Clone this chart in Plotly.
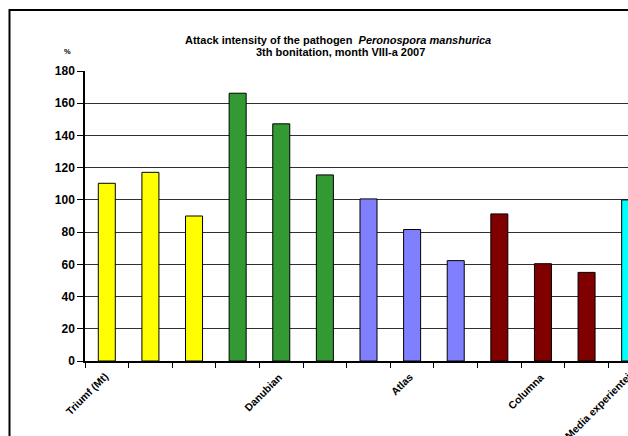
import plotly.graph_objects as go

# Attack intensity (%) per variant, third bonitation, August 2007
values = [110.3, 117.1, 90.0,
          166.2, 147.2, 115.5,
          100.6, 81.6, 62.3,
          91.3, 60.4, 55.0,
          100.0]
bar_colors = ["#FFFF00", "#FFFF00", "#FFFF00",
              "#339933", "#339933", "#339933",
              "#8080FF", "#8080FF", "#8080FF",
              "#800000", "#800000", "#800000",
              "#00FFFF"]
category_labels = ["Triumf (Mt)", "", "", "", "Danubian", "", "", "Atlas", "", "",
                   "Columna", "", "Media experientei"]
y_ticks = [0, 20, 40, 60, 80, 100, 120, 140, 160, 180]

X_MIN, X_MAX = -0.5, 11.95
positions = list(range(len(values)))

fig = go.Figure()
fig.add_trace(go.Bar(
    x=positions,
    y=values,
    width=0.39,
    marker=dict(color=bar_colors, line=dict(color="black", width=1)),
    hoverinfo="skip",
))

font_family = "Liberation Sans, Arial, sans-serif"


def to_paper_x(v):
    return (v - X_MIN) / (X_MAX - X_MIN)


annotations = []
for pos, lab in zip(positions, category_labels):
    if not lab:
        continue
    annotations.append(dict(
        text=f"<b>{lab}</b>", xref="paper", yref="paper",
        x=to_paper_x(pos) + 0.011, y=0, xanchor="right", yanchor="top",
        yshift=-7, textangle=-45, showarrow=False,
        font=dict(family=font_family, size=10.5, color="black"),
    ))

annotations += [
    dict(text="<b>Attack intensity of the pathogen  <i>Peronospora manshurica</i></b>",
         xref="paper", yref="paper", x=(338 - 85) / 543, y=(361 - 40) / 290,
         xanchor="center", yanchor="middle", showarrow=False,
         font=dict(family=font_family, size=11, color="black")),
    dict(text="<b>3th bonitation, month VIII-a 2007</b>",
         xref="paper", yref="paper", x=(340 - 85) / 543, y=(361 - 52) / 290,
         xanchor="center", yanchor="middle", showarrow=False,
         font=dict(family=font_family, size=11, color="black")),
    dict(text="<b>%</b>", xref="paper", yref="paper",
         x=(67 - 85) / 543, y=(361 - 52) / 290,
         xanchor="center", yanchor="middle", showarrow=False,
         font=dict(family=font_family, size=7.5, color="black")),
]

fig.update_layout(
    width=628, height=436,
    margin=dict(l=85, r=0, t=71, b=75),
    paper_bgcolor="white", plot_bgcolor="white",
    showlegend=False,
    bargap=0.6,
    xaxis=dict(
        range=[X_MIN, X_MAX],
        tickvals=[p - 0.5 for p in positions],
        showticklabels=False,
        ticks="outside", ticklen=5, tickcolor="black", tickwidth=1,
        showgrid=False, zeroline=False,
        showline=True, linecolor="black", linewidth=1.5,
    ),
    yaxis=dict(
        range=[0, 180],
        tickvals=y_ticks,
        ticktext=[f"<b>{t}</b>" for t in y_ticks],
        tickfont=dict(family=font_family, size=12, color="black"),
        ticks="outside", ticklen=6, tickcolor="black", tickwidth=1,
        showgrid=True, gridcolor="#303030", gridwidth=1,
        zeroline=False,
        showline=True, linecolor="black", linewidth=1.5,
    ),
    annotations=annotations,
    shapes=[dict(
        type="rect", xref="paper", yref="paper",
        x0=(9.5 - 85) / 543, x1=1.3,
        y0=-0.5, y1=(361 - 10) / 290,
        line=dict(color="black", width=2), fillcolor="rgba(0,0,0,0)",
        layer="above",
    )],
)

fig.write_html("out.html")
